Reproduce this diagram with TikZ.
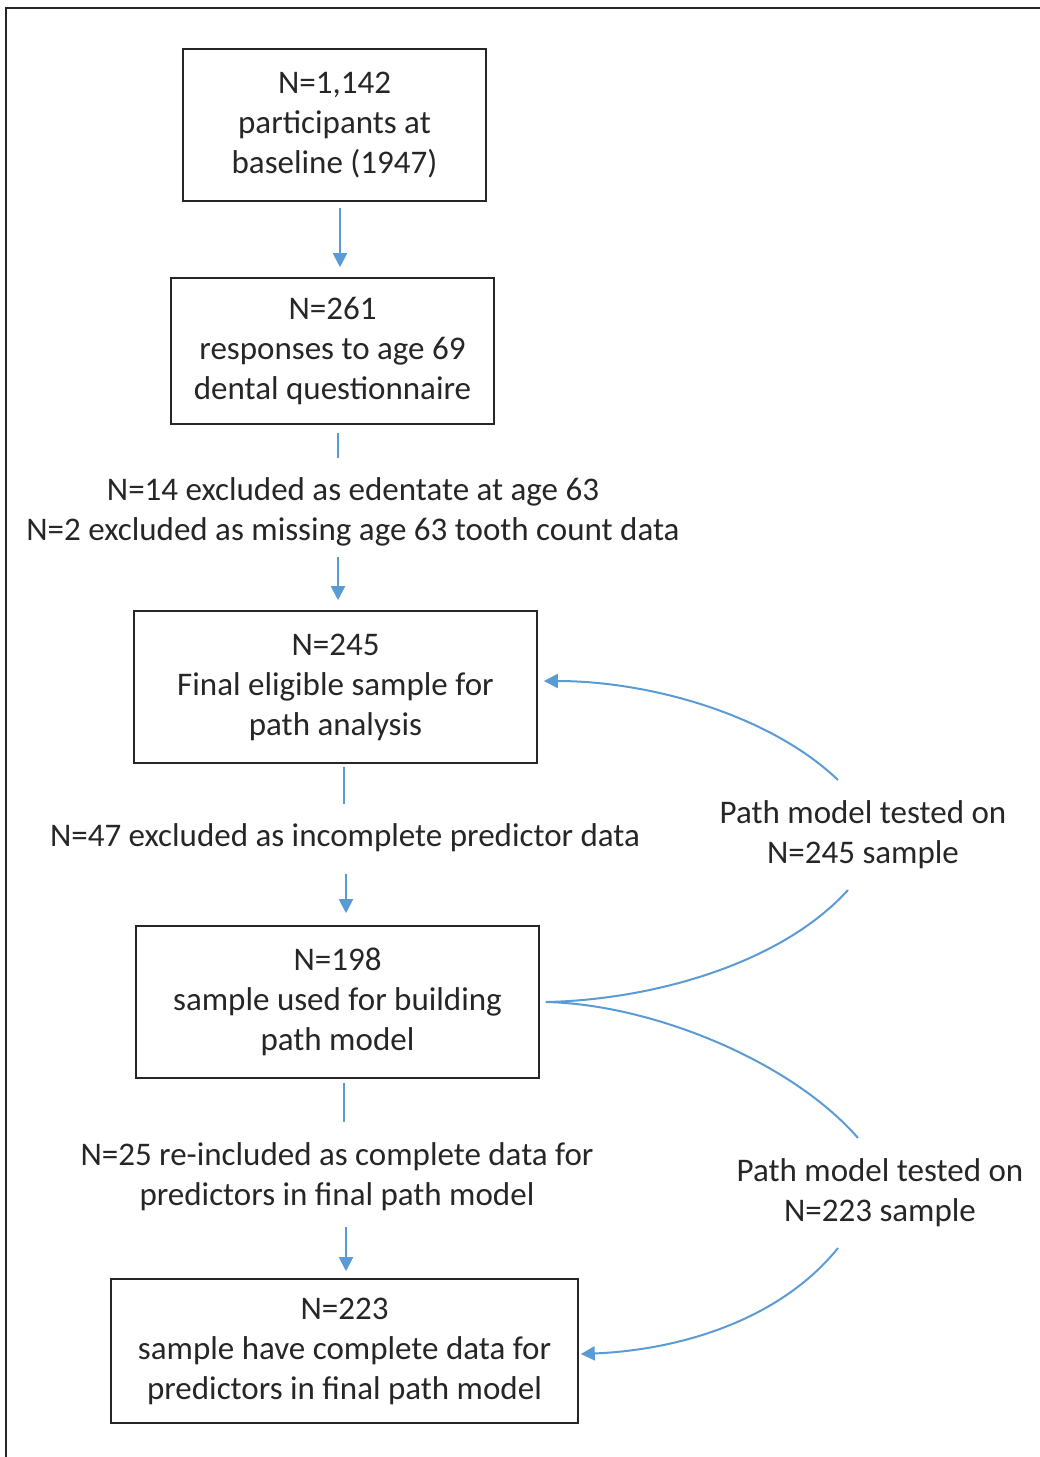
\documentclass[tikz,border=0pt]{standalone}
\usepackage{fontspec}
\setmainfont{Carlito}
\usetikzlibrary{arrows.meta,calc}
\definecolor{flowblue}{HTML}{5B9BD5}
\definecolor{ink}{HTML}{262626}
\begin{document}
\begin{tikzpicture}[x=1pt,y=-1pt,
  txt/.style={align=center,text=ink,font=\fontsize{33}{40}\selectfont,inner sep=0pt},
  stage/.style={txt,draw=ink,line width=1.6pt},
  conn/.style={draw=flowblue,line width=2pt},
  arr/.style={conn,-{Triangle[length=14pt,width=14pt]}}]
\useasboundingbox (0,0) rectangle (1040,1457);
% outer frame, running off the right and bottom edges
\draw[ink,line width=1.8pt] (6,1460) -- (6,8) -- (1045,8);

% stages of the flow
\node[stage,minimum width=303pt,minimum height=152pt] (b1) at (334.5,125)
  {N=1,142\\participants at\\baseline (1947)};
\node[stage,minimum width=323pt,minimum height=146pt] (b2) at (332.5,351)
  {N=261\\responses to age 69\\dental questionnaire};
\node[stage,minimum width=403pt,minimum height=152pt] (b3) at (335.5,687)
  {N=245\\Final eligible sample for\\path analysis};
\node[stage,minimum width=403pt,minimum height=152pt] (b4) at (337.5,1002)
  {N=198\\sample used for building\\path model};
\node[stage,minimum width=467pt,minimum height=144pt] (b5) at (344.5,1351)
  {N=223\\sample have complete data for\\predictors in final path model};

% exclusion notes
\node[txt] (ex1) at (353,511.5)
  {N=14 excluded as edentate at age 63\\N=2 excluded as missing age 63 tooth count data};
\node[txt] (ex2) at (345,838) {N=47 excluded as incomplete predictor data};
\node[txt] (ex3) at (337,1176.5)
  {N=25 re-included as complete data for\\predictors in final path model};

% model testing notes
\node[txt] (p1) at (863,834.5) {Path model tested on\\N=245 sample};
\node[txt] (p2) at (880,1192.5) {Path model tested on\\N=223 sample};

% vertical flow
\draw[arr] ($(b1.south)+(5.5,6)$) -- ($(b2.north)+(7.5,-10)$);
\draw[conn] ($(b2.south)+(5.5,8)$) -- ($(b2.south)+(5.5,33)$);
\draw[arr] ($(b3.north)+(2.5,-53)$) -- ($(b3.north)+(2.5,-10)$);
\draw[conn] ($(b3.south)+(8.5,3)$) -- ($(b3.south)+(8.5,40)$);
\draw[arr] ($(b4.north)+(8.5,-51)$) -- ($(b4.north)+(8.5,-12)$);
\draw[conn] ($(b4.south)+(6.5,4)$) -- ($(b4.south)+(6.5,43)$);
\draw[arr] ($(b5.north)+(1.5,-51)$) -- ($(b5.north)+(1.5,-7)$);

% curved links to the model tests
\coordinate (fork) at ($(b4.east)+(6,0)$);
\draw[arr] ($(p1)+(-25,-54.5)$) .. controls (770,715) and (650,681) .. ($(b3.east)+(6,-6)$);
\draw[conn] ($(p1)+(-15,55.5)$) .. controls (780,965) and (650,1000) .. (fork);
\draw[conn] (fork) .. controls (650,1004) and (790,1060) .. ($(p2)+(-22,-54.5)$);
\draw[arr] ($(p2)+(-42,55.5)$) .. controls (780,1320) and (680,1350) .. ($(b5.east)+(2,3)$);
\end{tikzpicture}
\end{document}
